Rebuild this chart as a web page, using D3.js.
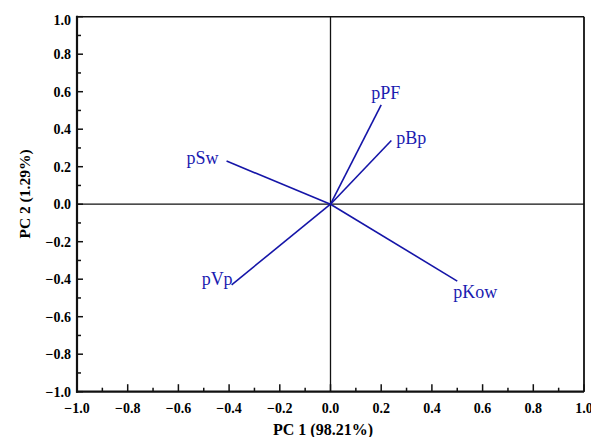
<!DOCTYPE html>
<html><head><meta charset="utf-8">
<script src="https://cdn.jsdelivr.net/npm/d3@7/dist/d3.min.js"></script>
<style>body{margin:0;background:#fff}</style>
</head><body>
<svg id="chart" width="591" height="437"></svg>
<script>
// Data
const variables = ["pSw", "pVp", "pKow", "pPF", "pBp"];
const pc1 = [-0.41, -0.39, 0.50, 0.20, 0.24];
const pc2 = [0.23, -0.43, -0.41, 0.53, 0.34];
const xTicks = [-1.0, -0.8, -0.6, -0.4, -0.2, 0.0, 0.2, 0.4, 0.6, 0.8, 1.0];
const yTicks = [-1.0, -0.8, -0.6, -0.4, -0.2, 0.0, 0.2, 0.4, 0.6, 0.8, 1.0];
const xTitle = "PC 1 (98.21%)";
const yTitle = "PC 2 (1.29%)";

// Label placement (style)
const labelStyle = {
  pSw: {dx: -8, dy: 3, anchor: "end"},
  pVp: {dx: 1, dy: 0, anchor: "end"},
  pKow: {dx: -4, dy: 17, anchor: "start"},
  pPF: {dx: -10, dy: -6, anchor: "start"},
  pBp: {dx: 5, dy: 4, anchor: "start"}
};

const svg = d3.select("#chart");
const L = 77, R = 584, T = 16.7, B = 391.7;
const x = d3.scaleLinear().domain([-1, 1]).range([L, R]);
const y = d3.scaleLinear().domain([-1, 1]).range([B, T]);
const font = "'Liberation Serif','Times New Roman',serif";
const fmt = d => (d < 0 ? "\u2212" : "") + Math.abs(d).toFixed(1);
const minor = d3.range(-10, 11).map(i => i / 10);

// zero lines
svg.append("line").attr("x1", x(0)).attr("x2", x(0)).attr("y1", T).attr("y2", B)
  .attr("stroke", "#111").attr("stroke-width", 1.3);
svg.append("line").attr("x1", L).attr("x2", R).attr("y1", y(0)).attr("y2", y(0))
  .attr("stroke", "#111").attr("stroke-width", 1.3);

// frame top/right
svg.append("line").attr("x1", L).attr("x2", R).attr("y1", T).attr("y2", T).attr("stroke", "#111").attr("stroke-width", 1.6);
svg.append("line").attr("x1", R).attr("x2", R).attr("y1", T).attr("y2", B).attr("stroke", "#111").attr("stroke-width", 1.8);

// bottom axis with inward ticks
const xAxis = svg.append("g").attr("transform", `translate(0,${B})`);
xAxis.selectAll("line.minor").data(minor).join("line")
  .attr("x1", d => x(d)).attr("x2", d => x(d)).attr("y1", 0)
  .attr("y2", (d, i) => i % 2 === 0 ? -7.5 : -4)
  .attr("stroke", "#111").attr("stroke-width", 1.5);
xAxis.append("line").attr("x1", L - 1).attr("x2", R).attr("stroke", "#111").attr("stroke-width", 2.2);
xAxis.selectAll("text").data(xTicks).join("text")
  .attr("x", d => x(d)).attr("y", 21)
  .attr("text-anchor", "middle")
  .attr("font-family", font).attr("font-weight", "bold").attr("font-size", 14)
  .text(fmt);

// left axis
const yAxis = svg.append("g").attr("transform", `translate(${L},0)`);
yAxis.selectAll("line.minor").data(minor).join("line")
  .attr("y1", d => y(d)).attr("y2", d => y(d)).attr("x1", 0)
  .attr("x2", (d, i) => i % 2 === 0 ? 6 : 4)
  .attr("stroke", "#111").attr("stroke-width", 1.5);
yAxis.append("line").attr("y1", T - 1).attr("y2", B + 1).attr("stroke", "#111").attr("stroke-width", 2.2);
yAxis.selectAll("text").data(yTicks).join("text")
  .attr("x", -6).attr("y", d => y(d) + 5 + (d === 1 ? 3 : 0))
  .attr("text-anchor", "end")
  .attr("font-family", font).attr("font-weight", "bold").attr("font-size", 14)
  .text(fmt);

// titles
svg.append("text").attr("x", 323).attr("y", 435).attr("text-anchor", "middle")
  .attr("font-family", font).attr("font-weight", "bold").attr("font-size", 16).text(xTitle);
svg.append("text").attr("transform", "translate(30,194) rotate(-90)").attr("text-anchor", "middle")
  .attr("font-family", font).attr("font-weight", "bold").attr("font-size", 15.5).text(yTitle);

// vectors
const blue = "#1515a8";
const data = variables.map((v, i) => ({name: v, a: pc1[i], b: pc2[i]}));
svg.append("g").selectAll("line").data(data).join("line")
  .attr("x1", x(0)).attr("y1", y(0))
  .attr("x2", d => x(d.a)).attr("y2", d => y(d.b))
  .attr("stroke", blue).attr("stroke-width", 1.6);
svg.append("g").selectAll("text").data(data).join("text")
  .attr("x", d => x(d.a) + labelStyle[d.name].dx)
  .attr("y", d => y(d.b) + labelStyle[d.name].dy)
  .attr("text-anchor", d => labelStyle[d.name].anchor)
  .attr("font-family", font).attr("font-size", 18).attr("fill", "#1a1ab0")
  .text(d => d.name);
</script>
</body></html>
